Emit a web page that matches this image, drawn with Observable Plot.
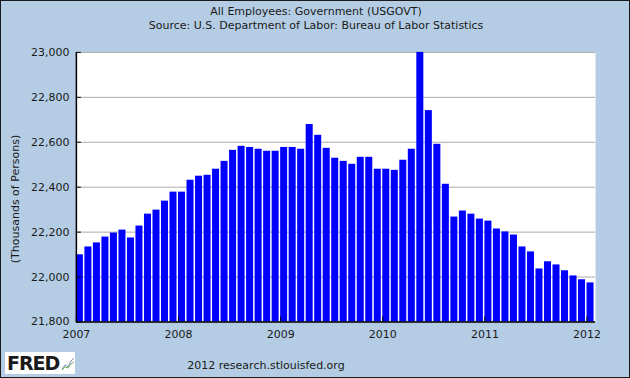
<!DOCTYPE html>
<html>
<head>
<meta charset="utf-8">
<script src="https://cdn.jsdelivr.net/npm/d3@7"></script>
<script src="https://cdn.jsdelivr.net/npm/@observablehq/plot@0.6"></script>
<style>
  html, body { margin: 0; padding: 0; background: #b4cde4; }
  #wrap { position: relative; width: 630px; height: 378px; box-sizing: border-box; border: 1px solid #1a1a1a; background: #b4cde4; overflow: hidden; font-family: "DejaVu Sans", sans-serif; color: #1a1a1a; }
  #chart { position: absolute; left: -1px; top: -1px; }
  .t { position: absolute; left: 0; width: 630px; text-align: center; font-size: 11px; white-space: nowrap; }
  #logo { position: absolute; left: 4px; top: 351px; width: 70px; height: 22px; background: #fff; }
  #logo span { position: absolute; left: 2px; top: 0px; font: bold 19px "DejaVu Sans", sans-serif; letter-spacing: -1px; color: #1a1a1a; }
  #ylab { position: absolute; left: 14px; top: 198px; transform: translate(-50%, -50%) rotate(-90deg); font-size: 11px; white-space: nowrap; }
</style>
</head>
<body>
<div id="wrap">
  <div id="chart"></div>
  <div class="t" style="top:4px">All Employees: Government (USGOVT)</div>
  <div class="t" style="top:18px">Source: U.S. Department of Labor: Bureau of Labor Statistics</div>
  <div id="ylab">(Thousands of Persons)</div>
  <div class="t" style="top:358px;left:-50px">2012 research.stlouisfed.org</div>
  <div id="logo"><span>FRED</span><svg style="position:absolute;left:57px;top:3px" width="12" height="16" viewBox="0 0 12 16"><polyline points="0,14 3,10 6,12 9,6 12,3" fill="none" stroke="#6a8fb0" stroke-width="1"/><polyline points="0,15 3,12 6,13 9,9 12,7" fill="none" stroke="#7ab060" stroke-width="1"/></svg></div>
</div>
<script>
// Monthly values, Jan 2007 .. Jan 2012 (thousands of persons)
const startYear = 2007;
const values = [
  22099, 22134, 22152, 22178, 22196, 22209, 22174, 22227, 22280, 22298, 22338, 22378,
  22378, 22431, 22449, 22453, 22480, 22515, 22564, 22582, 22577, 22569, 22560, 22560,
  22577, 22577, 22569, 22679, 22631, 22573, 22529, 22515, 22502, 22533, 22533, 22480,
  22480, 22475, 22520, 22569, 23000, 22741, 22591, 22413, 22267, 22294, 22280, 22258,
  22249, 22214, 22201, 22187, 22134, 22112, 22036, 22068, 22054, 22028, 22005, 21988,
  21974
];
const yDomain = [21800, 23000];
const yTicks = [21800, 22000, 22200, 22400, 22600, 22800, 23000];
const xTicks = [2007, 2008, 2009, 2010, 2011, 2012];

const data = values.map((v, i) => ({t: startYear + i / 12, v}));
const fmt = d3.format(",");

const chart = Plot.plot({
  width: 630,
  height: 378,
  marginLeft: 76,
  marginRight: 34,
  marginTop: 52,
  marginBottom: 56,
  style: {background: "transparent", fontFamily: "DejaVu Sans, sans-serif", fontSize: "11px", color: "#1a1a1a"},
  x: {type: "linear", domain: [startYear, startYear + values.length / 12]},
  y: {domain: yDomain},
  marks: [
    Plot.frame({fill: "white", stroke: null}),
    Plot.gridY(yTicks, {stroke: "#aaaaaa", strokeOpacity: 1, strokeWidth: 1}),
    Plot.rect(data, {x1: "t", x2: d => d.t + 1 / 12, y1: yDomain[0], y2: "v", fill: "#0000ff", insetRight: 1.5}),
    Plot.axisY(yTicks, {tickSize: -5, tickPadding: 12, tickFormat: fmt, stroke: "#000", fill: "#1a1a1a", label: null}),
    Plot.axisX(xTicks, {tickSize: -5, tickPadding: 13, tickFormat: d => String(d), stroke: "#000", fill: "#1a1a1a", label: null}),
    Plot.ruleX([startYear], {stroke: "#000", strokeWidth: 1.5}),
    Plot.ruleY([yDomain[0]], {stroke: "#000", strokeWidth: 1.5})
  ]
});
document.getElementById("chart").appendChild(chart);
</script>
</body>
</html>
